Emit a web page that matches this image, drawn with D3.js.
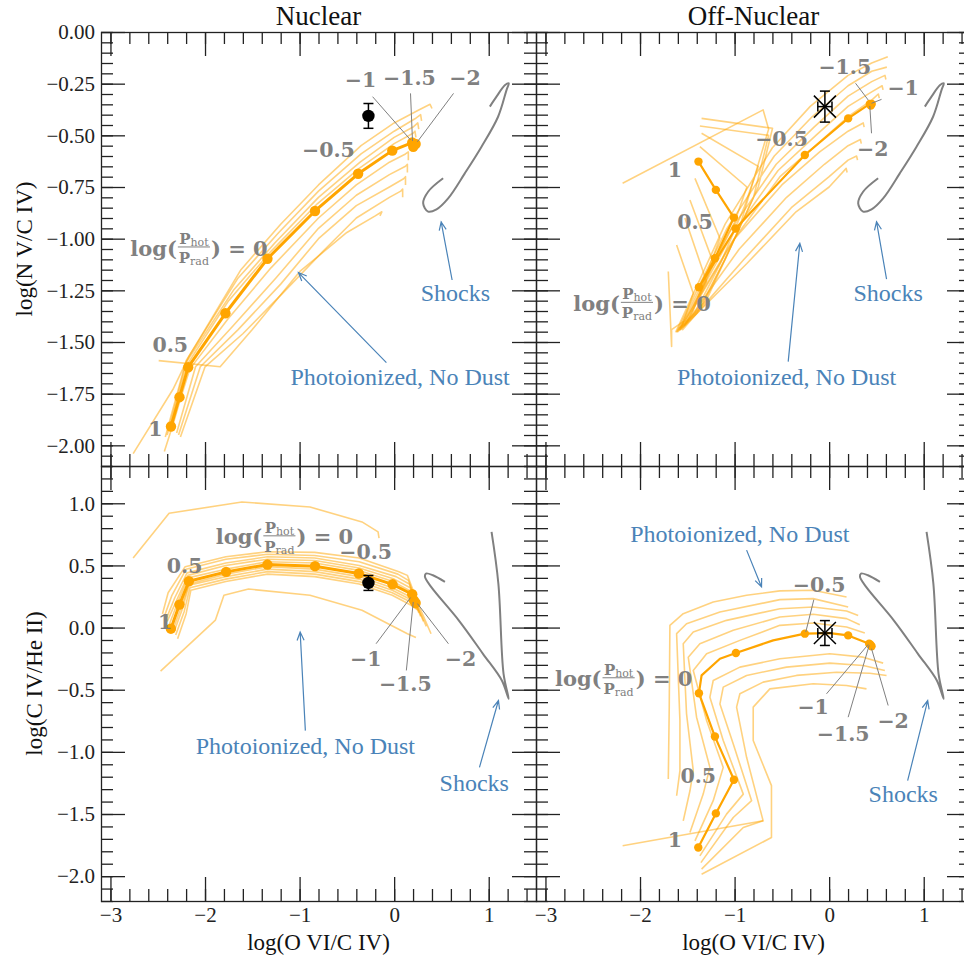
<!DOCTYPE html>
<html>
<head>
<meta charset="utf-8">
<script src="https://cdn.jsdelivr.net/npm/d3@7"></script>
<style>
  body { margin: 0; background: #fff; }
  svg { display: block; background: #fff; }
</style>
</head>
<body>
<svg id="chart" width="964" height="955"></svg>
<script>
// ---------------- axis set-up ----------------
const xDomain = [-3.1, 1.5];
const yTopDomain = [-2.1, 0];
const yBottomDomain = [-2.2, 1.3];
const xMajorTicks = [-3, -2, -1, 0, 1];
const yTopMajorTicks = [-2, -1.75, -1.5, -1.25, -1, -0.75, -0.5, -0.25, 0];
const yBottomMajorTicks = [-2, -1.5, -1, -0.5, 0, 0.5, 1];
const columnTitles = ["Nuclear", "Off-Nuclear"];
const xAxisTitle = "log(O VI/C IV)";
const yAxisTitles = ["log(N V/C IV)", "log(C IV/He II)"];

// ---------------- N V/C IV vs O VI/C IV, nuclear ----------------
const trackNucNV = [[-2.360,-1.909],[-2.270,-1.767],[-2.178,-1.622],[-1.784,-1.361],[-1.340,-1.097],[-0.837,-0.866],[-0.381,-0.686],[-0.020,-0.574],[0.191,-0.535],[0.202,-0.555],[0.227,-0.542]];
const gridNucNV = [
  [[-2.76,-2.04],[-2.34,-1.73],[-2.17,-1.57],[-1.62,-1.15],[-1.20,-0.93],[-0.80,-0.74],[-0.35,-0.55],[0.00,-0.44],[0.25,-0.38],[0.38,-0.35],[0.40,-0.37]],
  [[-2.42,-1.96],[-2.20,-1.59],[-1.65,-1.19],[-1.22,-0.97],[-0.80,-0.77],[-0.35,-0.59],[0.00,-0.48],[0.22,-0.42],[0.28,-0.40],[0.29,-0.43]],
  [[-2.40,-1.95],[-2.20,-1.60],[-1.70,-1.25],[-1.26,-1.02],[-0.80,-0.80],[-0.36,-0.63],[0.00,-0.51],[0.20,-0.46],[0.25,-0.44],[0.26,-0.47]],
  [[-2.38,-1.93],[-2.19,-1.61],[-1.75,-1.30],[-1.30,-1.06],[-0.81,-0.83],[-0.37,-0.66],[0.00,-0.54],[0.20,-0.49],[0.22,-0.48],[0.23,-0.51]],
  [[-2.43,-2.03],[-2.34,-1.90],[-2.25,-1.76],[-2.16,-1.63],[-1.76,-1.39],[-1.30,-1.14],[-0.80,-0.90],[-0.40,-0.74],[-0.05,-0.63],[0.12,-0.59],[0.15,-0.58],[0.15,-0.62]],
  [[-2.30,-1.94],[-2.10,-1.62],[-1.70,-1.42],[-1.25,-1.19],[-0.80,-0.95],[-0.40,-0.79],[-0.05,-0.69],[0.12,-0.65],[0.14,-0.64],[0.14,-0.68]],
  [[-2.28,-1.95],[-2.05,-1.62],[-1.65,-1.44],[-1.20,-1.22],[-0.80,-1.00],[-0.40,-0.84],[-0.05,-0.75],[0.10,-0.71],[0.12,-0.70],[0.12,-0.74]],
  [[-2.26,-1.96],[-2.00,-1.62],[-1.60,-1.46],[-1.15,-1.25],[-0.75,-1.06],[-0.40,-0.90],[-0.05,-0.80],[0.07,-0.77],[0.09,-0.76],[0.09,-0.80]],
  [[-2.49,-1.59],[-1.84,-1.62],[-1.50,-1.44],[-1.00,-1.16],[-0.50,-0.97],[-0.20,-0.89],[-0.13,-0.87],[-0.15,-0.89]]
];
const shocksNV = [[0.518,-0.708],[0.359,-0.773],[0.307,-0.829],[0.359,-0.869],[0.448,-0.858],[0.571,-0.805],[0.747,-0.684],[0.924,-0.555],[1.099,-0.410],[1.188,-0.281],[1.212,-0.248],[1.170,-0.258],[1.082,-0.313],[1.012,-0.361]];

// ---------------- N V/C IV vs O VI/C IV, off-nuclear ----------------
const trackOffNV = [[-1.382,-0.627],[-1.198,-0.764],[-1.007,-0.898],[-1.208,-1.095],[-1.377,-1.235],[-0.989,-0.951],[-0.257,-0.595],[0.201,-0.418],[0.430,-0.348],[0.440,-0.356],[0.450,-0.348]];
const gridOffNV = [
  [[-2.184,-0.732],[-0.698,-0.377],[-0.640,-0.47],[-0.95,-0.95],[-1.30,-1.30],[-1.62,-1.45],[-1.10,-0.93],[-0.60,-0.56],[-0.20,-0.36],[0.20,-0.21],[0.45,-0.15],[0.62,-0.12]],
  [[-1.349,-0.418],[-0.599,-0.466],[-0.75,-0.75],[-1.05,-1.05],[-1.35,-1.33],[-1.61,-1.45],[-1.08,-0.95],[-0.58,-0.60],[-0.18,-0.41],[0.20,-0.26],[0.45,-0.19],[0.61,-0.17]],
  [[-1.367,-0.455],[-0.64,-0.50],[-0.80,-0.80],[-1.10,-1.10],[-1.40,-1.36],[-1.60,-1.45],[-1.06,-0.97],[-0.56,-0.64],[-0.16,-0.46],[0.20,-0.31],[0.45,-0.24],[0.59,-0.21],[0.60,-0.23]],
  [[-1.349,-0.490],[-0.75,-0.65],[-0.90,-0.85],[-1.15,-1.12],[-1.42,-1.36],[-1.58,-1.44],[-1.04,-0.99],[-0.54,-0.67],[-0.14,-0.50],[0.20,-0.36],[0.45,-0.29],[0.56,-0.26],[0.57,-0.28]],
  [[-1.367,-0.555],[-0.87,-0.75],[-1.00,-0.92],[-1.25,-1.15],[-1.45,-1.34],[-1.57,-1.43],[-1.02,-1.01],[-0.52,-0.70],[-0.12,-0.54],[0.20,-0.41],[0.45,-0.33],[0.52,-0.30],[0.53,-0.32]],
  [[-1.419,-0.708],[-1.155,-0.998],[-1.40,-1.30],[-1.52,-1.40],[-1.00,-1.00],[-0.50,-0.74],[-0.10,-0.58],[0.20,-0.48],[0.36,-0.44],[0.37,-0.46]],
  [[-1.472,-0.813],[-1.226,-1.115],[-1.45,-1.36],[-1.53,-1.42],[-0.95,-1.05],[-0.45,-0.80],[-0.05,-0.64],[0.20,-0.55],[0.33,-0.52],[0.34,-0.54]],
  [[-1.525,-0.900],[-1.296,-1.208],[-1.50,-1.40],[-1.55,-1.44],[-0.90,-1.10],[-0.40,-0.85],[0.00,-0.70],[0.20,-0.62],[0.29,-0.60],[0.30,-0.62]],
  [[-1.613,-1.031],[-1.437,-1.264],[-1.57,-1.44],[-0.87,-1.12],[-0.35,-0.87],[0.00,-0.75],[0.18,-0.66],[0.19,-0.68]],
  [[-1.701,-1.159],[-1.666,-1.522],[-1.666,-1.44],[-1.54,-1.40]]
];

// ---------------- C IV/He II vs O VI/C IV, nuclear ----------------
const trackNucCIV = [[-2.361,-0.009],[-2.270,0.185],[-2.171,0.373],[-1.777,0.448],[-1.340,0.507],[-0.837,0.494],[-0.374,0.435],[-0.017,0.348],[0.191,0.268],[0.209,0.219],[0.227,0.198]];
const gridNucCIV = [
  [[-2.76,0.56],[-2.38,0.92],[-1.61,1.01],[-0.89,0.97],[-0.34,0.85],[-0.17,0.77],[-0.16,0.72]],
  [[-2.45,0.11],[-2.39,0.28],[-2.21,0.49],[-1.78,0.57],[-1.34,0.61],[-0.84,0.605],[-0.37,0.56],[0.05,0.45],[0.14,0.42],[0.27,0.16],[0.39,-0.05]],
  [[-2.43,0.09],[-2.35,0.26],[-2.20,0.47],[-1.78,0.55],[-1.34,0.59],[-0.84,0.58],[-0.37,0.53],[0.04,0.43],[0.15,0.38],[0.26,0.15],[0.34,0.01]],
  [[-2.41,0.07],[-2.32,0.24],[-2.19,0.44],[-1.78,0.52],[-1.34,0.57],[-0.84,0.56],[-0.37,0.50],[0.02,0.41],[0.16,0.35],[0.25,0.16],[0.31,0.05]],
  [[-2.40,0.05],[-2.30,0.22],[-2.18,0.42],[-1.78,0.50],[-1.34,0.55],[-0.84,0.54],[-0.37,0.48],[0.00,0.39],[0.17,0.32],[0.24,0.17],[0.28,0.09]],
  [[-2.38,0.02],[-2.29,0.20],[-2.18,0.40],[-1.78,0.47],[-1.34,0.53],[-0.84,0.52],[-0.37,0.46],[-0.01,0.37],[0.18,0.29],[0.23,0.19],[0.26,0.12]],
  [[-2.34,-0.02],[-2.25,0.17],[-2.17,0.35],[-1.78,0.43],[-1.34,0.49],[-0.84,0.47],[-0.37,0.41],[-0.02,0.32],[0.19,0.24],[0.22,0.19],[0.24,0.16]],
  [[-2.33,-0.04],[-2.24,0.15],[-2.17,0.34],[-1.78,0.41],[-1.34,0.47],[-0.84,0.45],[-0.37,0.39],[-0.02,0.30],[0.19,0.22],[0.23,0.16]],
  [[-2.31,-0.06],[-2.22,0.13],[-2.16,0.32],[-1.78,0.39],[-1.34,0.45],[-0.84,0.43],[-0.37,0.37],[-0.02,0.28],[0.19,0.20],[0.24,0.15]],
  [[-2.29,-0.09],[-2.20,0.11],[-2.15,0.30],[-1.78,0.37],[-1.34,0.43],[-0.84,0.41],[-0.37,0.35],[-0.02,0.26],[0.18,0.18],[0.25,0.14]],
  [[-2.47,-0.35],[-1.89,0.06],[-1.80,0.26],[-1.54,0.31],[-0.89,0.26],[-0.34,0.14],[0.14,-0.05],[0.23,-0.08]]
];
const shocksCIV = [[0.537,0.367],[0.410,0.421],[0.337,0.435],[0.326,0.407],[0.391,0.327],[0.683,0.058],[0.939,-0.211],[1.139,-0.426],[1.211,-0.573],[1.157,-0.372],[1.102,0.354],[1.030,0.770]];

// ---------------- C IV/He II vs O VI/C IV, off-nuclear ----------------
const trackOffCIV = [[-1.384,-1.770],[-1.198,-1.495],[-1.007,-1.224],[-1.208,-0.877],[-1.377,-0.528],[-1.349,-0.385],[-1.155,-0.251],[-0.986,-0.205],[-0.592,-0.103],[-0.257,-0.049],[0.007,-0.044],[0.201,-0.063],[0.423,-0.130],[0.448,-0.151],[0.437,-0.138]];
const dotsOffCIV = [[-1.384,-1.770],[-1.198,-1.495],[-1.007,-1.224],[-1.208,-0.877],[-1.377,-0.528],[-0.986,-0.205],[-0.257,-0.049],[0.201,-0.063],[0.423,-0.130],[0.448,-0.151],[0.437,-0.138]];
const gridOffCIV = [
  [[-1.367,-1.837],[-1.085,-1.501],[-0.908,-1.340],[-1.120,-0.909],[-1.261,-0.560],[-1.226,-0.426],[-0.944,-0.318],[-0.521,-0.251],[0.007,-0.210],[0.360,-0.238],[0.571,-0.286]],
  [[-1.356,-1.891],[-1.014,-1.528],[-0.820,-1.393],[-1.014,-0.936],[-1.155,-0.614],[-1.120,-0.479],[-0.873,-0.385],[-0.451,-0.318],[0.007,-0.286],[0.360,-0.305],[0.589,-0.345]],
  [[-1.349,-1.944],[-0.908,-1.609],[-0.698,-1.555],[-0.873,-1.044],[-0.979,-0.640],[-0.944,-0.533],[-0.698,-0.439],[-0.345,-0.385],[0.078,-0.359],[0.430,-0.367],[0.607,-0.385]],
  [[-1.349,-1.985],[-0.610,-1.689],[-0.610,-1.272],[-0.803,-0.909],[-0.803,-0.640],[-0.627,-0.493],[-0.169,-0.452],[0.184,-0.466],[0.395,-0.493]],
  [[-2.184,-1.756],[-0.698,-1.555]],
  [[-1.419,-1.716],[-1.226,-1.393],[-1.120,-1.125],[-1.296,-0.748],[-1.437,-0.345],[-1.296,-0.210],[-0.944,-0.103],[-0.521,0.018],[-0.169,0.037],[0.184,0.004],[0.377,-0.044]],
  [[-1.472,-1.649],[-1.332,-1.340],[-1.261,-1.125],[-1.402,-0.721],[-1.490,-0.238],[-1.367,-0.130],[-1.014,-0.022],[-0.521,0.085],[-0.169,0.107],[0.184,0.072],[0.324,0.023]],
  [[-1.543,-1.555],[-1.472,-1.313],[-1.437,-1.151],[-1.508,-0.694],[-1.543,-0.130],[-1.437,-0.036],[-1.085,0.058],[-0.521,0.152],[-0.169,0.166],[0.184,0.133],[0.307,0.098]],
  [[-1.613,-1.353],[-1.578,-1.151],[-1.578,-0.748],[-1.613,-0.049],[-1.508,0.031],[-1.155,0.125],[-0.521,0.225],[-0.169,0.233],[0.201,0.166]],
  [[-1.701,-1.219],[-1.691,-0.640],[-1.684,0.018],[-1.543,0.112],[-1.226,0.206],[-0.873,0.260],[-0.521,0.295],[-0.169,0.300],[0.184,0.246]]
];

// ---------------- measured line ratios ----------------
const observedNucNV = { x: -0.272, y: -0.406, xerr: 0, yerr: 0.06 };
const observedOffNV = { x: -0.045, y: -0.361, xerr: 0.075, yerr: 0.075 };
const observedNucCIV = { x: -0.272, y: 0.359, xerr: 0, yerr: 0.06 };
const observedOffCIV = { x: -0.045, y: -0.044, xerr: 0.075, yerr: 0.10 };

// ---------------- log(P_hot/P_rad) labels ----------------
const pressLabelsNucNV = [{t:"1",x:-2.524,y:-1.917},{t:"0.5",x:-2.368,y:-1.514},{t:"\u22120.5",x:-0.695,y:-0.571},{t:"\u22121",x:-0.356,y:-0.232},{t:"\u22121.5",x:0.162,y:-0.219},{t:"\u22122",x:0.749,y:-0.219}];
const pressLeadersNucNV = [[[-0.228,-0.313],[0.173,-0.522]],[[0.173,-0.297],[0.194,-0.527]],[[0.628,-0.297],[0.246,-0.531]]];
const pressLabelsOffNV = [{t:"1",x:-1.631,y:-0.668},{t:"0.5",x:-1.419,y:-0.918},{t:"\u22120.5",x:-0.503,y:-0.514},{t:"\u22121.5",x:0.166,y:-0.168},{t:"\u22121",x:0.782,y:-0.268},{t:"\u22122",x:0.462,y:-0.563}];
const pressLeadersOffNV = [[[0.279,-0.248],[0.413,-0.329]],[[0.554,-0.326],[0.448,-0.345]],[[0.448,-0.490],[0.430,-0.358]]];
const pressLabelsNucCIV = [{t:"1",x:-2.423,y:0.044},{t:"0.5",x:-2.215,y:0.502},{t:"\u22120.5",x:-0.301,y:0.609},{t:"\u22121",x:-0.301,y:-0.251},{t:"\u22121.5",x:0.118,y:-0.452},{t:"\u22122",x:0.701,y:-0.251}];
const pressLeadersNucCIV = [[[-0.191,-0.130],[0.173,0.241]],[[0.129,-0.345],[0.202,0.206]],[[0.574,-0.130],[0.246,0.193]]];
const pressLabelsOffCIV = [{t:"1",x:-1.631,y:-1.703},{t:"0.5",x:-1.384,y:-1.192},{t:"\u22120.5",x:-0.106,y:0.349},{t:"\u22121",x:-0.169,y:-0.640},{t:"\u22121.5",x:0.148,y:-0.851},{t:"\u22122",x:0.677,y:-0.748}];
const pressLeadersOffCIV = [[[-0.162,0.225],[-0.247,-0.036]],[[-0.028,-0.533],[0.413,-0.136]],[[0.201,-0.721],[0.423,-0.143]],[[0.624,-0.627],[0.448,-0.170]]];
// left edge / vertical centre of the "log(Phot/Prad) = 0" label
const ratioLabelAnchors = [[-2.791,-1.045],[-2.706,-1.313],[-1.887,0.730],[-2.900,-0.412]];

// ---------------- blue annotations ----------------
const photoNotes = [
  { text:[0.063,-1.667], from:[-0.082,-1.600], to:[-1.012,-1.164] },
  { text:[-0.450,-1.667], from:[-0.433,-1.595], to:[-0.310,-1.022] },
  { text:[-0.939,-0.950], from:[-0.939,-0.829], to:[-0.994,-0.036] },
  { text:[-0.944,0.757], from:[-0.873,0.623], to:[-0.715,0.327] }
];
const shockNotes = [
  { text:[0.647,-1.264], from:[0.613,-1.200], to:[0.497,-0.919] },
  { text:[0.624,-1.264], from:[0.607,-1.196], to:[0.501,-0.918] },
  { text:[0.847,-1.246], from:[0.902,-1.125], to:[1.103,-0.587] },
  { text:[0.784,-1.340], from:[0.830,-1.232], to:[1.042,-0.587] }
];

// ---------------- styling ----------------
const ORANGE = "#ffa500";
const GRAY = "#808080";
const BLUE = "#4a83b8";
const INK = "#222";
const SERIF = "'Liberation Serif','Times New Roman',serif";
const BOLDSERIF = "'DejaVu Serif',serif";
const TICK_MAJOR = 24, TICK_MINOR = 12;

const panels = [
  { col:0, row:0, grid:gridNucNV, track:trackNucNV, dots:trackNucNV, shocks:shocksNV, obs:observedNucNV, obsStyle:"dot",
    labels:pressLabelsNucNV, leaders:pressLeadersNucNV, ratio:ratioLabelAnchors[0], photo:photoNotes[0], shock:shockNotes[0] },
  { col:1, row:0, grid:gridOffNV, track:trackOffNV, dots:trackOffNV, shocks:shocksNV, obs:observedOffNV, obsStyle:"cross",
    labels:pressLabelsOffNV, leaders:pressLeadersOffNV, ratio:ratioLabelAnchors[1], photo:photoNotes[1], shock:shockNotes[1] },
  { col:0, row:1, grid:gridNucCIV, track:trackNucCIV, dots:trackNucCIV, shocks:shocksCIV, obs:observedNucCIV, obsStyle:"dot",
    labels:pressLabelsNucCIV, leaders:pressLeadersNucCIV, ratio:ratioLabelAnchors[2], photo:photoNotes[2], shock:shockNotes[2] },
  { col:1, row:1, grid:gridOffCIV, track:trackOffCIV, dots:dotsOffCIV, shocks:shocksCIV, obs:observedOffCIV, obsStyle:"cross",
    labels:pressLabelsOffCIV, leaders:pressLeadersOffCIV, ratio:ratioLabelAnchors[3], photo:photoNotes[3], shock:shockNotes[3] }
];

const svg = d3.select("#chart");
const defs = svg.append("defs");
const colRanges = [[101, 536], [536, 971]];
const rowRanges = [[466, 32], [901, 466]];

const minus = s => s.replace("-", "\u2212");
const fmtTop = d => minus(d.toFixed(2));
const fmtBottom = d => minus((Math.abs(d) < 1e-9 ? 0 : d).toFixed(1));
const fmtX = d => minus(String(d));

function arrowPath(x1, y1, x2, y2) {
  const a = Math.atan2(y2 - y1, x2 - x1), L = 9, w = 0.4;
  const h1 = [x2 - L*Math.cos(a - w), y2 - L*Math.sin(a - w)];
  const h2 = [x2 - L*Math.cos(a + w), y2 - L*Math.sin(a + w)];
  return `M${x1},${y1}L${x2},${y2}M${h1[0]},${h1[1]}L${x2},${y2}L${h2[0]},${h2[1]}`;
}

// "log(P_hot / P_rad) = 0" with a stacked fraction
function ratioLabel(g, px, py) {
  const grp = g.append("g").attr("fill", GRAY);
  const t1 = grp.append("text").attr("x", px).attr("y", py).attr("dy", "0.36em")
    .attr("font-family", BOLDSERIF).attr("font-weight", "bold").attr("font-size", 21).text("log(");
  const w1 = t1.node().getComputedTextLength();
  const fx = px + w1 + 1;
  const num = grp.append("text").attr("y", py - 4).attr("font-family", BOLDSERIF).attr("font-weight", "bold");
  num.append("tspan").attr("font-size", 15).text("P");
  num.append("tspan").attr("font-size", 11).attr("font-weight", "normal").attr("dy", 2).text("hot");
  const den = grp.append("text").attr("y", py + 15).attr("font-family", BOLDSERIF).attr("font-weight", "bold");
  den.append("tspan").attr("font-size", 15).text("P");
  den.append("tspan").attr("font-size", 11).attr("font-weight", "normal").attr("dy", 2).text("rad");
  const wn = num.node().getComputedTextLength(), wd = den.node().getComputedTextLength();
  const fw = Math.max(wn, wd) + 2;
  num.attr("x", fx + (fw - wn) / 2);
  den.attr("x", fx + (fw - wd) / 2);
  grp.append("line").attr("x1", fx).attr("x2", fx + fw).attr("y1", py - 1).attr("y2", py - 1)
    .attr("stroke", GRAY).attr("stroke-width", 1);
  grp.append("text").attr("x", fx + fw + 1).attr("y", py).attr("dy", "0.36em")
    .attr("font-family", BOLDSERIF).attr("font-weight", "bold").attr("font-size", 21)
    .attr("xml:space", "preserve").text(") = 0");
}

panels.forEach((p, i) => {
  const x = d3.scaleLinear(xDomain, colRanges[p.col]);
  const y = d3.scaleLinear(p.row === 0 ? yTopDomain : yBottomDomain, rowRanges[p.row]);
  const [x0, x1] = x.range();
  const [yb, yt] = y.range();
  const isLeft = p.col === 0, isTop = p.row === 0;
  const small = p.col === 1;

  defs.append("clipPath").attr("id", "clip" + i)
    .append("rect").attr("x", x0).attr("y", yt).attr("width", x1 - x0).attr("height", yb - yt);

  const g = svg.append("g");
  const plot = g.append("g").attr("clip-path", `url(#clip${i})`);
  const line = d3.line().x(d => x(d[0])).y(d => y(d[1]));

  // model grid
  plot.selectAll("path.grid").data(p.grid).join("path").attr("class", "grid")
    .attr("d", line).attr("fill", "none").attr("stroke", ORANGE)
    .attr("stroke-opacity", 0.5).attr("stroke-width", 1.6).attr("stroke-linejoin", "round");
  // highlighted track
  plot.append("path").datum(p.track).attr("d", line).attr("fill", "none")
    .attr("stroke", ORANGE).attr("stroke-width", small ? 2.2 : 3).attr("stroke-linejoin", "round");
  plot.selectAll("circle.dot").data(p.dots).join("circle").attr("class", "dot")
    .attr("cx", d => x(d[0])).attr("cy", d => y(d[1])).attr("r", small ? 4.2 : 5.2).attr("fill", ORANGE);
  // shock models
  plot.append("path").datum(p.shocks).attr("d", d3.line().curve(d3.curveCatmullRom).x(d => x(d[0])).y(d => y(d[1])))
    .attr("fill", "none").attr("stroke", GRAY).attr("stroke-width", 2);

  // observed ratio
  const o = p.obs, ox = x(o.x), oy = y(o.y);
  const ob = g.append("g").attr("stroke", "#000").attr("stroke-width", 1.5).attr("fill", "none");
  ob.append("line").attr("x1", ox).attr("x2", ox).attr("y1", y(o.y - o.yerr)).attr("y2", y(o.y + o.yerr));
  ob.append("line").attr("x1", ox - 5).attr("x2", ox + 5).attr("y1", y(o.y - o.yerr)).attr("y2", y(o.y - o.yerr));
  ob.append("line").attr("x1", ox - 5).attr("x2", ox + 5).attr("y1", y(o.y + o.yerr)).attr("y2", y(o.y + o.yerr));
  if (o.xerr > 0) {
    ob.append("line").attr("x1", x(o.x - o.xerr)).attr("x2", x(o.x + o.xerr)).attr("y1", oy).attr("y2", oy);
    ob.append("line").attr("x1", x(o.x - o.xerr)).attr("x2", x(o.x - o.xerr)).attr("y1", oy - 5).attr("y2", oy + 5);
    ob.append("line").attr("x1", x(o.x + o.xerr)).attr("x2", x(o.x + o.xerr)).attr("y1", oy - 5).attr("y2", oy + 5);
  }
  if (p.obsStyle === "dot") {
    g.append("circle").attr("cx", ox).attr("cy", oy).attr("r", 6.2).attr("fill", "#000");
  } else {
    ob.append("path").attr("d", `M${ox-11},${oy-11}L${ox+11},${oy+11}M${ox-11},${oy+11}L${ox+11},${oy-11}`);
  }

  // leader lines and pressure-ratio labels
  g.selectAll("path.leader").data(p.leaders).join("path").attr("class", "leader")
    .attr("d", line).attr("fill", "none").attr("stroke", GRAY).attr("stroke-width", 1);
  g.selectAll("text.press").data(p.labels).join("text").attr("class", "press")
    .attr("x", d => x(d.x)).attr("y", d => y(d.y)).attr("dy", "0.36em")
    .attr("text-anchor", "middle").attr("font-family", BOLDSERIF).attr("font-weight", "bold")
    .attr("font-size", 20.5).attr("fill", GRAY).text(d => d.t);
  ratioLabel(g, x(p.ratio[0]), y(p.ratio[1]));

  // blue annotations
  const notes = [[p.photo, "Photoionized, No Dust"], [p.shock, "Shocks"]];
  notes.forEach(([n, label]) => {
    g.append("text").attr("x", x(n.text[0])).attr("y", y(n.text[1])).attr("dy", "0.34em")
      .attr("text-anchor", "middle").attr("font-family", SERIF).attr("font-size", 24)
      .attr("fill", BLUE).text(label);
    g.append("path").attr("d", arrowPath(x(n.from[0]), y(n.from[1]), x(n.to[0]), y(n.to[1])))
      .attr("fill", "none").attr("stroke", BLUE).attr("stroke-width", 1.2);
  });

  // ticks on all four sides, pointing inward
  const yMajor = isTop ? yTopMajorTicks : yBottomMajorTicks;
  const yMinor = isTop ? d3.range(-2.1, 0.0001, 0.05) : d3.range(-2.2, 1.3001, 0.1);
  const xMinor = d3.range(-3.0, 1.4001, 0.2);
  const axes = g.append("g");
  function place(axis, tx, ty, showText) {
    const a = axes.append("g").attr("transform", `translate(${tx},${ty})`).call(axis);
    a.select(".domain").remove();
    a.selectAll("line").attr("stroke", INK).attr("stroke-width", 1.3);
    a.attr("font-family", SERIF).attr("font-size", 21);
    a.selectAll("text").attr("fill", INK);
    if (!showText) a.selectAll("text").remove();
    return a;
  }
  const fmtY = isTop ? fmtTop : fmtBottom;
  place(d3.axisLeft(y).tickValues(yMinor).tickSize(-TICK_MINOR).tickFormat(""), x0, 0, false);
  place(d3.axisRight(y).tickValues(yMinor).tickSize(-TICK_MINOR).tickFormat(""), x1, 0, false);
  place(d3.axisLeft(y).tickValues(yMajor).tickSize(-TICK_MAJOR).tickPadding(6).tickFormat(fmtY), x0, 0, isLeft);
  place(d3.axisRight(y).tickValues(yMajor).tickSize(-TICK_MAJOR).tickFormat(""), x1, 0, false);
  place(d3.axisTop(x).tickValues(xMinor).tickSize(-TICK_MINOR).tickFormat(""), 0, yt, false);
  place(d3.axisBottom(x).tickValues(xMinor).tickSize(-TICK_MINOR).tickFormat(""), 0, yb, false);
  place(d3.axisTop(x).tickValues(xMajorTicks).tickSize(-TICK_MAJOR).tickFormat(""), 0, yt, false);
  place(d3.axisBottom(x).tickValues(xMajorTicks).tickSize(-TICK_MAJOR).tickPadding(6).tickFormat(fmtX), 0, yb, !isTop);

  // frame
  g.append("rect").attr("x", x0 + 0.5).attr("y", yt + 0.5).attr("width", x1 - x0).attr("height", yb - yt)
    .attr("fill", "none").attr("stroke", INK).attr("stroke-width", 1.3);

  // titles
  const cx = (x0 + x1) / 2;
  if (isTop) {
    svg.append("text").attr("x", cx).attr("y", 25).attr("text-anchor", "middle")
      .attr("font-family", SERIF).attr("font-size", 27).attr("fill", "#111").text(columnTitles[p.col]);
  } else {
    svg.append("text").attr("x", cx).attr("y", 942).attr("dy", "0.34em").attr("text-anchor", "middle")
      .attr("font-family", SERIF).attr("font-size", 23).attr("fill", "#111").text(xAxisTitle);
  }
  if (isLeft) {
    const cy = (yt + yb) / 2;
    const lx = isTop ? 24 : 34;
    svg.append("text").attr("transform", `translate(${lx},${cy}) rotate(-90)`).attr("dy", "0.34em")
      .attr("text-anchor", "middle").attr("font-family", SERIF).attr("font-size", 23).attr("fill", "#111")
      .text(yAxisTitles[p.row]);
  }
});
</script>
</body>
</html>
